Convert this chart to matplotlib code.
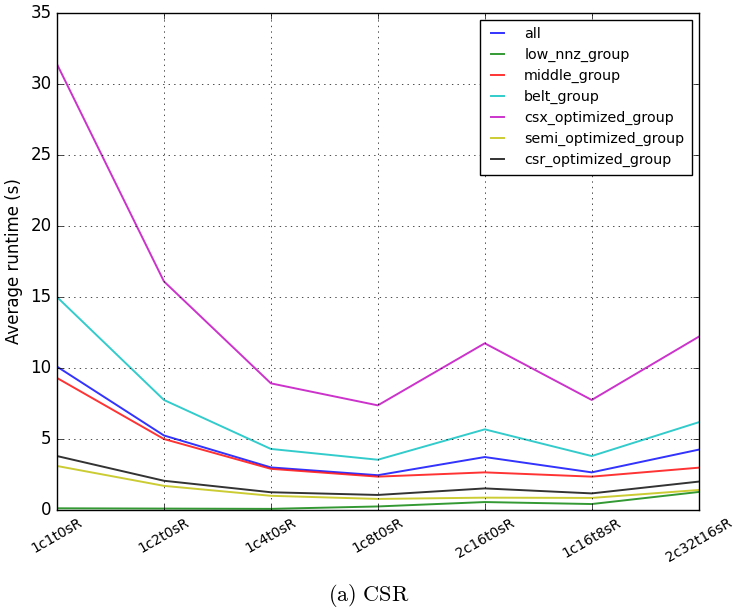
import numpy as np
import matplotlib
matplotlib.use('Agg')
import matplotlib.pyplot as plt

configs = ['1c1t0sR', '1c2t0sR', '1c4t0sR', '1c8t0sR', '2c16t0sR', '1c16t8sR', '2c32t16sR']

all_grp = [10.1, 5.25, 3.0, 2.45, 3.73, 2.65, 4.25]
low_nnz_group = [0.12, 0.1, 0.08, 0.25, 0.56, 0.42, 1.27]
middle_group = [9.3, 5.0, 2.9, 2.35, 2.65, 2.35, 2.98]
belt_group = [15.0, 7.75, 4.3, 3.54, 5.68, 3.8, 6.18]
csx_optimized_group = [31.4, 16.1, 8.92, 7.37, 11.74, 7.75, 12.2]
semi_optimized_group = [3.1, 1.7, 1.0, 0.78, 0.87, 0.85, 1.41]
csr_optimized_group = [3.8, 2.06, 1.25, 1.06, 1.52, 1.17, 2.0]

series = [
    (all_grp, 'all', 'b'),
    (low_nnz_group, 'low_nnz_group', 'g'),
    (middle_group, 'middle_group', 'r'),
    (belt_group, 'belt_group', 'c'),
    (csx_optimized_group, 'csx_optimized_group', 'm'),
    (semi_optimized_group, 'semi_optimized_group', 'y'),
    (csr_optimized_group, 'csr_optimized_group', 'k'),
]

plt.style.use('classic')
plt.rcParams['mathtext.fontset'] = 'cm'

fig = plt.figure(figsize=(7.37, 6.11), dpi=100, facecolor='white')
ax = fig.add_axes([0.0773, 0.1653, 0.8707, 0.8134])

x = np.arange(len(configs))
for vals, name, col in series:
    ax.plot(x, vals, color=col, label=name, lw=1.4, alpha=0.8)

ax.set_xlim(0, len(configs) - 1)
ax.set_ylim(0, 35)
ax.set_xticks(x)
ax.set_xticklabels(configs, rotation=30, ha='center', fontsize=10)
ax.tick_params(axis='y', labelsize=12)
ax.set_ylabel('Average runtime (s)', fontsize=12)
ax.grid(True)
ax.legend(loc='upper right', fontsize=10.3, handlelength=1.5,
          handletextpad=1.1, labelspacing=0.48, borderpad=0.5)

fig.text(0.5, 0.026, r'$\mathrm{(a)\ CSR}$', ha='center', va='center', fontsize=16)

fig.savefig('out.png', dpi=100, facecolor='white')
